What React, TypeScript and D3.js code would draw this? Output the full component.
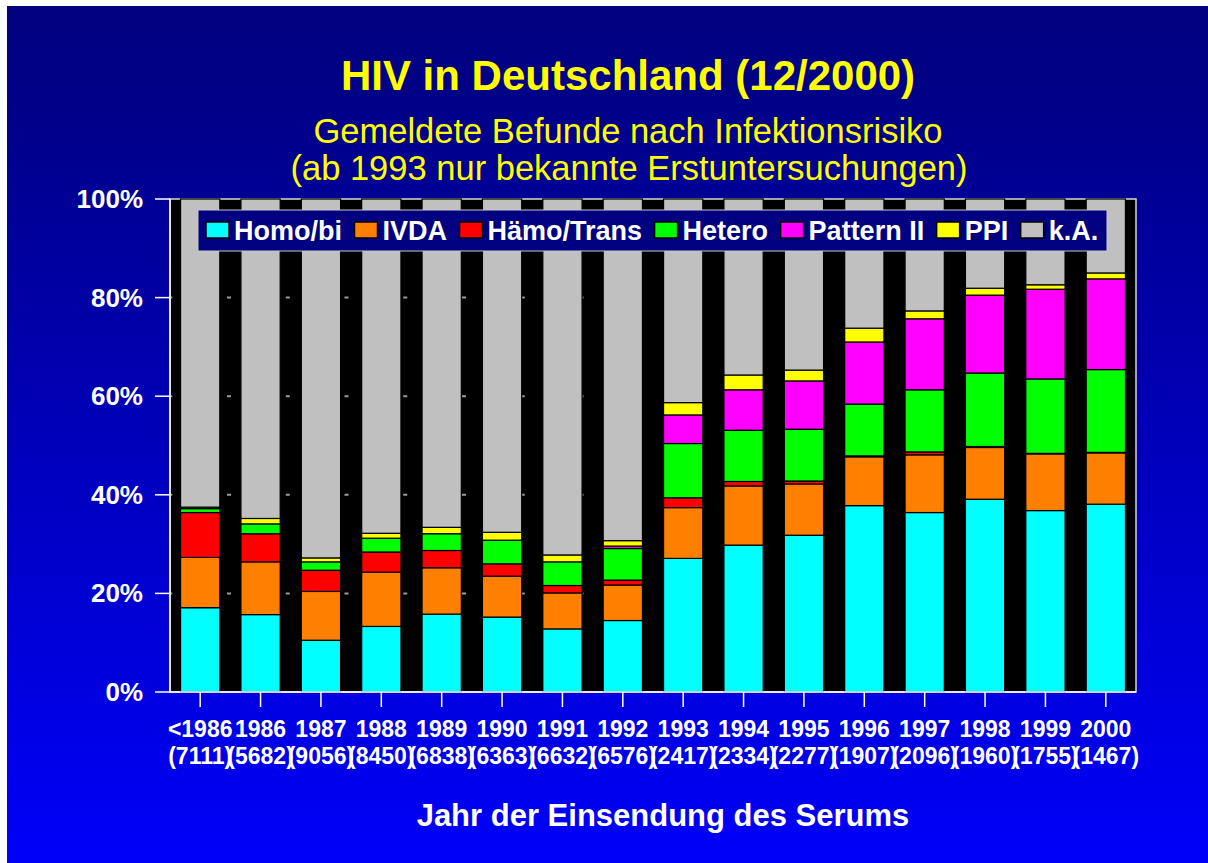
import React, { useEffect, useRef } from 'react';
import * as d3 from 'd3';

// Years and (number of reports) under each bar
const years = ['<1986', '1986', '1987', '1988', '1989', '1990', '1991', '1992', '1993', '1994', '1995', '1996', '1997', '1998', '1999', '2000'];
const counts = ['(7111)', '(5682)', '(9056)', '(8450)', '(6838)', '(6363)', '(6632)', '(6576)', '(2417)', '(2334)', '(2277)', '(1907)', '(2096)', '(1960)', '(1755)', '(1467)'];

// Shares in percent
const homoBi = [17.1, 15.7, 10.5, 13.3, 15.8, 15.2, 12.8, 14.5, 27.1, 29.8, 31.8, 37.8, 36.4, 39.1, 36.8, 38.1];
const ivda = [10.2, 10.7, 9.9, 11.0, 9.4, 8.3, 7.3, 7.2, 10.3, 12.0, 10.4, 9.9, 11.7, 10.5, 11.5, 10.4];
const haemoTrans = [9.1, 5.7, 4.3, 4.1, 3.5, 2.5, 1.5, 1.0, 2.0, 0.9, 0.6, 0.2, 0.6, 0.2, 0.1, 0.1];
const hetero = [0.8, 2.0, 1.7, 2.8, 3.4, 4.8, 4.8, 6.4, 11.0, 10.4, 10.5, 10.5, 12.6, 14.9, 15.1, 16.8];
const pattern2 = [0, 0, 0, 0, 0, 0, 0, 0.5, 5.8, 8.2, 9.8, 12.6, 14.4, 15.8, 18.2, 18.4];
const ppi = [0.3, 1.1, 0.8, 1.0, 1.3, 1.6, 1.4, 1.1, 2.5, 3.0, 2.2, 2.8, 1.6, 1.4, 0.9, 1.2];
const kA = [62.5, 64.8, 72.8, 67.8, 66.6, 67.6, 72.2, 69.3, 41.3, 35.7, 34.7, 26.2, 22.7, 18.1, 17.4, 15.0];

const seriesNames = ['Homo/bi', 'IVDA', 'Hämo/Trans', 'Hetero', 'Pattern II', 'PPI', 'k.A.'];
const seriesValues = [homoBi, ivda, haemoTrans, hetero, pattern2, ppi, kA];
const seriesColors = ['#00FFFF', '#FF8000', '#FF0000', '#00FF00', '#FF00FF', '#FFFF00', '#C0C0C0'];
const yTicks = [0, 20, 40, 60, 80, 100];

const FONT = '"Liberation Sans", Arial, Helvetica, sans-serif';

const HivChart: React.FC = () => {
  const svgRef = useRef<SVGSVGElement>(null);

  useEffect(() => {
    if (!svgRef.current) return;
    const svg = d3.select(svgRef.current);
    svg.selectAll('*').remove();

    const W = 1208;
    const H = 863;
    const plot = { left: 170, right: 1136, top: 199, bottom: 692 };

    // background gradient
    const defs = svg.append('defs');
    const grad = defs.append('linearGradient')
      .attr('id', 'bg')
      .attr('x1', 0).attr('y1', 0).attr('x2', 0).attr('y2', 1);
    grad.append('stop').attr('offset', '0%').attr('stop-color', '#000080');
    grad.append('stop').attr('offset', '12%').attr('stop-color', '#000088');
    grad.append('stop').attr('offset', '100%').attr('stop-color', '#0000FA');

    svg.append('rect')
      .attr('x', 7).attr('y', 6)
      .attr('width', W - 7).attr('height', H - 6)
      .attr('fill', 'url(#bg)');

    // titles
    svg.append('text')
      .attr('x', 628).attr('y', 90)
      .attr('text-anchor', 'middle')
      .attr('font-family', FONT).attr('font-weight', 'bold').attr('font-size', 42)
      .attr('fill', '#FFFF00')
      .text('HIV in Deutschland (12/2000)');
    svg.append('text')
      .attr('x', 628).attr('y', 143)
      .attr('text-anchor', 'middle')
      .attr('font-family', FONT).attr('font-size', 34.5)
      .attr('fill', '#FFFF00')
      .text('Gemeldete Befunde nach Infektionsrisiko');
    svg.append('text')
      .attr('x', 629).attr('y', 180)
      .attr('text-anchor', 'middle')
      .attr('font-family', FONT).attr('font-size', 34.5)
      .attr('fill', '#FFFF00')
      .text('(ab 1993 nur bekannte Erstuntersuchungen)');

    const x = d3.scaleBand<string>()
      .domain(years)
      .range([plot.left, plot.right])
      .paddingInner(0.35)
      .paddingOuter(0.175);

    const y = d3.scaleLinear()
      .domain([0, 100])
      .range([plot.bottom, plot.top]);

    // plot area
    svg.append('rect')
      .attr('x', plot.left).attr('y', plot.top)
      .attr('width', plot.right - plot.left).attr('height', plot.bottom - plot.top)
      .attr('fill', '#000000')
      .attr('stroke', '#D8D8D8').attr('stroke-width', 1.5);

    // dashed grid lines (only visible between bars)
    svg.append('g')
      .selectAll('line')
      .data(yTicks.filter(t => t > 0 && t < 100))
      .enter().append('line')
      .attr('x1', plot.left).attr('x2', plot.right)
      .attr('y1', d => y(d)).attr('y2', d => y(d))
      .attr('stroke', '#9A9A9A').attr('stroke-width', 2)
      .attr('stroke-dasharray', '4 54.75')
      .attr('stroke-dashoffset', -(227 - plot.left) + 58.75);

    // stacked bars
    const rows = years.map((yr, i) => {
      const r: Record<string, any> = { year: yr };
      seriesNames.forEach((n, k) => { r[n] = seriesValues[k][i]; });
      return r;
    });
    const stacked = d3.stack<Record<string, any>>().keys(seriesNames)(rows);

    const layers = svg.append('g')
      .selectAll('g')
      .data(stacked)
      .enter().append('g')
      .attr('fill', (_d, i) => seriesColors[i]);

    layers.selectAll('rect')
      .data(d => d.filter(s => s[1] - s[0] > 0.05))
      .enter().append('rect')
      .attr('x', d => x(d.data.year as string)!)
      .attr('width', x.bandwidth())
      .attr('y', d => y(d[1]))
      .attr('height', d => y(d[0]) - y(d[1]))
      .attr('stroke', '#000000')
      .attr('stroke-width', 1.2);

    // y axis
    const yAxis = svg.append('g');
    yAxis.append('line')
      .attr('x1', plot.left).attr('x2', plot.left)
      .attr('y1', plot.top).attr('y2', plot.bottom)
      .attr('stroke', '#FFFFFF').attr('stroke-width', 1.5);
    const yt = yAxis.selectAll('g.tick')
      .data(yTicks)
      .enter().append('g')
      .attr('class', 'tick');
    yt.append('line')
      .attr('x1', plot.left - 15).attr('x2', plot.left)
      .attr('y1', d => y(d)).attr('y2', d => y(d))
      .attr('stroke', '#FFFFFF').attr('stroke-width', 1.5);
    yt.append('text')
      .attr('x', 143).attr('y', d => y(d) + 9)
      .attr('text-anchor', 'end')
      .attr('font-family', FONT).attr('font-weight', 'bold').attr('font-size', 26)
      .attr('fill', '#FFFFFF')
      .text(d => `${d}%`);

    // x axis
    const xAxis = svg.append('g');
    xAxis.append('line')
      .attr('x1', plot.left).attr('x2', plot.right)
      .attr('y1', plot.bottom).attr('y2', plot.bottom)
      .attr('stroke', '#FFFFFF').attr('stroke-width', 1.5);
    const xt = xAxis.selectAll('g.tick')
      .data(years)
      .enter().append('g')
      .attr('class', 'tick');
    xt.append('line')
      .attr('x1', d => x(d)! + x.bandwidth() / 2).attr('x2', d => x(d)! + x.bandwidth() / 2)
      .attr('y1', plot.bottom).attr('y2', plot.bottom + 15)
      .attr('stroke', '#FFFFFF').attr('stroke-width', 1.5);
    xt.append('text')
      .attr('x', d => x(d)! + x.bandwidth() / 2).attr('y', 737)
      .attr('text-anchor', 'middle')
      .attr('font-family', FONT).attr('font-weight', 'bold').attr('font-size', 23)
      .attr('fill', '#FFFFFF')
      .text(d => d);
    xt.append('text')
      .attr('x', d => x(d)! + x.bandwidth() / 2).attr('y', 764)
      .attr('text-anchor', 'middle')
      .attr('font-family', FONT).attr('font-weight', 'bold').attr('font-size', 23)
      .attr('fill', '#FFFFFF')
      .text((_d, i) => counts[i]);

    svg.append('text')
      .attr('x', 663).attr('y', 826)
      .attr('text-anchor', 'middle')
      .attr('font-family', FONT).attr('font-weight', 'bold').attr('font-size', 31)
      .attr('fill', '#FFFFFF')
      .text('Jahr der Einsendung des Serums');

    // legend
    const legend = svg.append('g');
    legend.append('rect')
      .attr('x', 198).attr('y', 210)
      .attr('width', 909).attr('height', 41)
      .attr('fill', '#000080')
      .attr('stroke', '#C8C8C8').attr('stroke-width', 1);
    let lx = 206;
    seriesNames.forEach((name, i) => {
      legend.append('rect')
        .attr('x', lx).attr('y', 222)
        .attr('width', 23).attr('height', 16)
        .attr('fill', seriesColors[i])
        .attr('stroke', '#000000').attr('stroke-width', 1.5);
      const t = legend.append('text')
        .attr('x', lx + 28).attr('y', 240)
        .attr('font-family', FONT).attr('font-weight', 'bold').attr('font-size', 27)
        .attr('fill', '#FFFFFF')
        .text(name);
      const w = (t.node() as SVGTextElement).getComputedTextLength();
      lx = lx + 28 + w + 12.5;
    });
  }, []);

  return (
    <svg
      ref={svgRef}
      width={1208}
      height={863}
      style={{ position: 'absolute', left: 0, top: 0, display: 'block' }}
    />
  );
};

export default function App() {
  return <HivChart />;
}
